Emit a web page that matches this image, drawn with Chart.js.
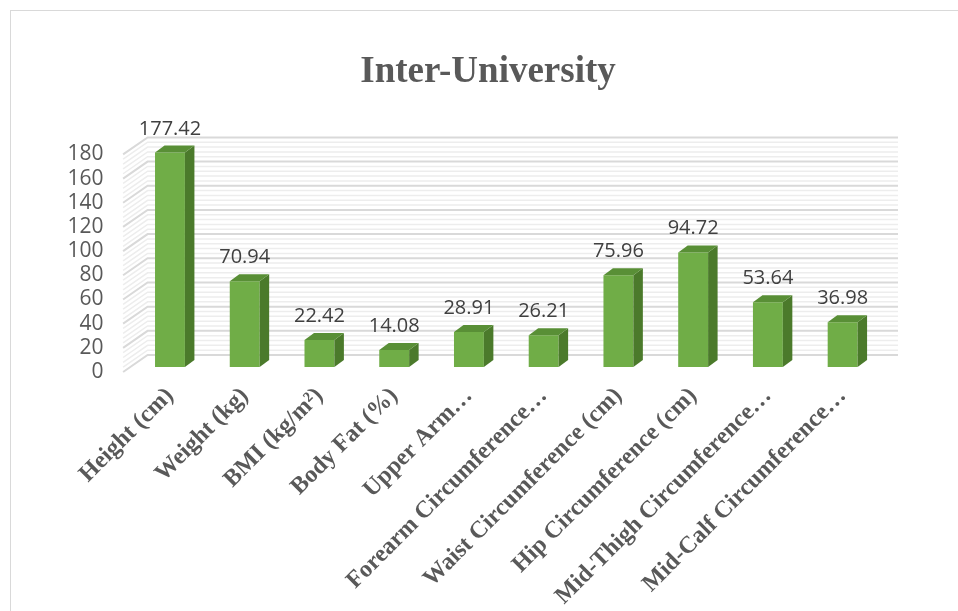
<!DOCTYPE html>
<html>
<head>
<meta charset="utf-8">
<script src="https://cdn.jsdelivr.net/npm/chart.js@4/dist/chart.umd.min.js"></script>
<style>
    html, body { margin: 0; padding: 0; background: #fff; overflow: hidden; }
    #frame {
        position: absolute; left: 10px; top: 10px;
        width: 1000px; height: 700px;
        border: 1px solid #d9d9d9;
    }
    #wrap { position: absolute; left: 0; top: 0; width: 958px; height: 611px; }
</style>
</head>
<body>
<div id="frame"></div>
<div id="wrap"><canvas id="barChart" width="958" height="611"></canvas></div>
<script>
const categories = [
    'Height (cm)',
    'Weight (kg)',
    'BMI (kg/m²)',
    'Body Fat (%)',
    'Upper Arm…',
    'Forearm Circumference…',
    'Waist Circumference (cm)',
    'Hip Circumference (cm)',
    'Mid-Thigh Circumference…',
    'Mid-Calf Circumference…'
];
const values = [177.42, 70.94, 22.42, 14.08, 28.91, 26.21, 75.96, 94.72, 53.64, 36.98];
const yTicks = [0, 20, 40, 60, 80, 100, 120, 140, 160, 180];

// depth offsets for the fake 3D look
const BAR_DX = 9.5, BAR_DY = -7;
const BACK_DX = 15, BACK_DY = -12;
const FRONT_DX = -9.5, FRONT_DY = 5;

const pseudo3d = {
    id: 'pseudo3d',
    beforeDatasetsDraw(chart) {
        const { ctx, chartArea, scales } = chart;
        const y = scales.y;
        const backRight = chartArea.right + 18;
        ctx.save();
        // wall stripes, major every 20
        for (let v = 0; v <= 180; v += 4) {
            const py = y.getPixelForValue(v);
            const major = v % 20 === 0;
            ctx.strokeStyle = major ? '#d9d9d9' : '#ededed';
            ctx.lineWidth = major ? 2 : 1.5;
            ctx.beginPath();
            ctx.moveTo(chartArea.left + FRONT_DX, py + FRONT_DY);
            ctx.lineTo(chartArea.left + BACK_DX, py + BACK_DY);
            ctx.lineTo(backRight, py + BACK_DY);
            ctx.stroke();
        }
        ctx.restore();
    },
    afterDatasetsDraw(chart) {
        const { ctx } = chart;
        const meta = chart.getDatasetMeta(0);
        ctx.save();
        meta.data.forEach(bar => {
            const half = bar.width / 2;
            const xl = bar.x - half, xr = bar.x + half;
            // side face
            ctx.fillStyle = '#4b7a2b';
            ctx.beginPath();
            ctx.moveTo(xr, bar.y);
            ctx.lineTo(xr + BAR_DX, bar.y + BAR_DY);
            ctx.lineTo(xr + BAR_DX, bar.base + BAR_DY);
            ctx.lineTo(xr, bar.base);
            ctx.closePath();
            ctx.fill();
            // top face
            ctx.fillStyle = '#598f36';
            ctx.beginPath();
            ctx.moveTo(xl, bar.y);
            ctx.lineTo(xl + BAR_DX, bar.y + BAR_DY);
            ctx.lineTo(xr + BAR_DX, bar.y + BAR_DY);
            ctx.lineTo(xr, bar.y);
            ctx.closePath();
            ctx.fill();
        });
        ctx.restore();
    },
    afterDraw(chart) {
        const { ctx } = chart;
        const meta = chart.getDatasetMeta(0);
        ctx.save();
        ctx.font = '20px "Open Sans"';
        ctx.fillStyle = '#404040';
        ctx.textAlign = 'center';
        ctx.textBaseline = 'alphabetic';
        meta.data.forEach((bar, i) => {
            ctx.fillText(values[i].toFixed(2), bar.x, bar.y - 18);
        });
        ctx.restore();
    }
};

function initChart() {
    const ctx = document.getElementById('barChart').getContext('2d');
    new Chart(ctx, {
        type: 'bar',
        data: {
            labels: categories,
            datasets: [{
                label: 'Inter-University',
                data: values,
                backgroundColor: '#70ad47',
                borderWidth: 0,
                categoryPercentage: 1,
                barPercentage: 0.4
            }]
        },
        options: {
            responsive: false,
            animation: false,
            layout: { padding: { left: 18, right: 0, top: 0, bottom: 0 } },
            plugins: {
                legend: { display: false },
                tooltip: { enabled: false },
                title: {
                    display: true,
                    text: 'Inter-University',
                    color: '#595959',
                    font: { family: '"Liberation Serif", serif', size: 37, weight: 'bold' },
                    padding: { top: 50, bottom: 55 }
                }
            },
            scales: {
                x: {
                    grid: { display: false },
                    border: { display: false },
                    ticks: {
                        color: '#595959',
                        font: { family: '"Liberation Serif", serif', size: 24, weight: 'bold' },
                        minRotation: 45,
                        maxRotation: 45,
                        autoSkip: false,
                        padding: 7
                    },
                    afterFit: scale => { scale.height = 244; }
                },
                y: {
                    min: 0,
                    max: 180,
                    afterBuildTicks: scale => { scale.ticks = yTicks.map(v => ({ value: v })); },
                    grid: { display: false, drawTicks: false },
                    border: { display: false },
                    ticks: {
                        color: '#595959',
                        font: { family: '"Open Sans", sans-serif', size: 21 },
                        autoSkip: false,
                        padding: 29,
                        labelOffset: 5
                    },
                    afterFit: scale => { scale.width = 114.6; }
                },
                // empty right axis, only reserves space on the right
                yRight: {
                    position: 'right',
                    min: 0,
                    max: 1,
                    grid: { display: false, drawTicks: false },
                    border: { display: false },
                    ticks: { display: false },
                    afterFit: scale => { scale.width = 78; }
                }
            }
        },
        plugins: [pseudo3d]
    });
}

window.addEventListener('load', () => {
    initChart();
});
</script>
</body>
</html>
